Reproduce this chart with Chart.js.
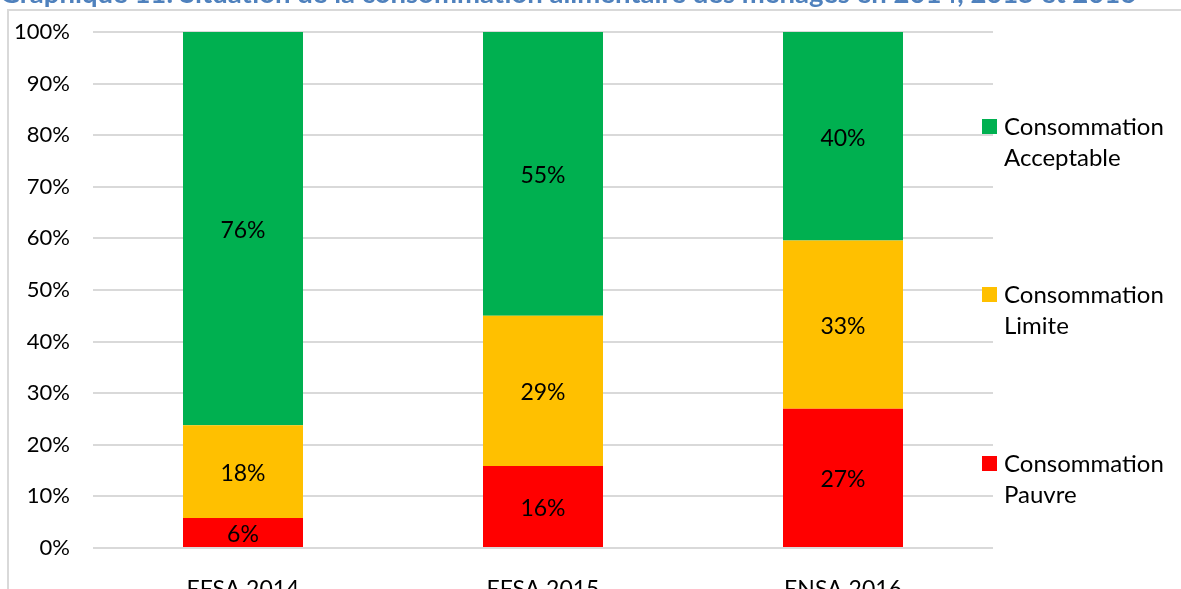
<!DOCTYPE html>
<html lang="fr">
<head>
<meta charset="utf-8">
<title>Consommation alimentaire des ménages</title>
<script src="https://cdn.jsdelivr.net/npm/chart.js@4.4.1/dist/chart.umd.min.js"></script>
<style>
  html, body { margin: 0; padding: 0; background: #fff; overflow: hidden; }
  #wrap { position: relative; width: 1181px; height: 620px; }
</style>
</head>
<body>
<div id="wrap"><canvas id="consoChart" width="1181" height="620"></canvas></div>
<script>
// Données (% des ménages)
const categories = ["EFSA 2014", "EFSA 2015", "ENSA 2016"];
const pauvre = [5.8, 15.9, 27.0];
const limite = [18.0, 29.1, 32.6];
const acceptable = [76.2, 55.0, 40.4];
const yTicks = [0, 10, 20, 30, 40, 50, 60, 70, 80, 90, 100];
const titleText = "Graphique 11: Situation de la consommation alimentaire des ménages en 2014, 2015 et 2016";

const FONT = "Lato, 'Noto Sans', sans-serif";
const GRID = "#d9d9d9";

// Titre coupé en haut + cadre du graphique
const framePlugin = {
  id: "frame",
  beforeDraw(chart) {
    const ctx = chart.ctx;
    ctx.save();
    ctx.fillStyle = "#4f81bd";
    ctx.font = "bold 27.5px " + FONT;
    ctx.textBaseline = "alphabetic";
    ctx.textAlign = "left";
    ctx.fillText(titleText, 0, 3);
    ctx.strokeStyle = GRID;
    ctx.lineWidth = 2;
    ctx.beginPath();
    ctx.moveTo(1181, 10);
    ctx.lineTo(8, 10);
    ctx.lineTo(8, 620);
    ctx.stroke();
    ctx.restore();
  },
};

// Etiquettes de valeurs au centre des segments
const valueLabels = {
  id: "valueLabels",
  afterDatasetsDraw(chart) {
    const ctx = chart.ctx;
    ctx.save();
    ctx.font = "23px " + FONT;
    ctx.fillStyle = "#000";
    ctx.textAlign = "center";
    ctx.textBaseline = "middle";
    chart.data.datasets.forEach((ds, i) => {
      chart.getDatasetMeta(i).data.forEach((bar, j) => {
        const y = (bar.y + bar.base) / 2 + 2;
        ctx.fillText(Math.round(ds.data[j]) + "%", bar.x, y);
      });
    });
    ctx.restore();
  },
};

// Légende à droite, sur deux lignes
const sideLegend = {
  id: "sideLegend",
  afterDraw(chart) {
    const ctx = chart.ctx;
    const tops = [456, 287, 119]; // Pauvre, Limite, Acceptable
    ctx.save();
    ctx.font = "24px " + FONT;
    ctx.textAlign = "left";
    ctx.textBaseline = "alphabetic";
    chart.data.datasets.forEach((ds, i) => {
      const top = tops[i];
      ctx.fillStyle = ds.backgroundColor;
      ctx.fillRect(982, top, 15, 15);
      ctx.fillStyle = "#000";
      ds.legendLines.forEach((line, k) => {
        ctx.fillText(line, 1004, top + 16 + k * 31);
      });
    });
    ctx.restore();
  },
};

new Chart(document.getElementById("consoChart"), {
  type: "bar",
  data: {
    labels: categories,
    datasets: [
      {
        label: "Consommation Pauvre",
        legendLines: ["Consommation", "Pauvre"],
        data: pauvre,
        backgroundColor: "#ff0000",
      },
      {
        label: "Consommation Limite",
        legendLines: ["Consommation", "Limite"],
        data: limite,
        backgroundColor: "#ffc000",
      },
      {
        label: "Consommation Acceptable",
        legendLines: ["Consommation", "Acceptable"],
        data: acceptable,
        backgroundColor: "#00b050",
      },
    ],
  },
  options: {
    responsive: false,
    animation: false,
    categoryPercentage: 1,
    barPercentage: 0.4,
    layout: { padding: { left: 0, right: 188, top: 32, bottom: 22 } },
    plugins: {
      legend: { display: false },
      tooltip: { enabled: false },
      title: { display: false },
    },
    scales: {
      x: {
        stacked: true,
        grid: { display: false },
        border: { display: false },
        ticks: { color: "#000", font: { family: FONT, size: 23 }, padding: 20 },
        afterFit: (scale) => {
          scale.height = 50;
          scale.paddingLeft = 0;
          scale.paddingRight = 0;
        },
      },
      y: {
        stacked: true,
        min: 0,
        max: 100,
        afterBuildTicks: (scale) => { scale.ticks = yTicks.map((v) => ({ value: v })); },
        grid: { color: GRID, lineWidth: 2, drawTicks: false },
        border: { display: false },
        ticks: {
          color: "#000",
          font: { family: FONT, size: 22 },
          padding: 23,
          callback: (v) => v + "%",
        },
        afterFit: (scale) => {
          scale.width = 93;
          scale.paddingTop = 0;
          scale.paddingBottom = 0;
        },
      },
    },
  },
  plugins: [framePlugin, valueLabels, sideLegend],
});
</script>
</body>
</html>
